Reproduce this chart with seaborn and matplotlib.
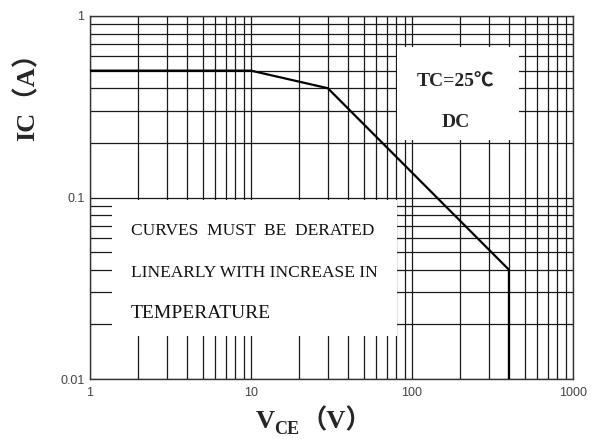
import matplotlib
matplotlib.use("Agg")
import matplotlib.pyplot as plt
import seaborn as sns
import pandas as pd
from matplotlib.patches import Rectangle
from matplotlib.ticker import FixedLocator, NullFormatter

# curve data (safe operating area, DC, TC=25C)
vce = [1, 10, 30, 400, 400]
ic = [0.5, 0.5, 0.4, 0.04, 0.01]

x_ticks = [1, 10, 100, 1000]
x_labels = ["1", "10", "100", "1000"]
y_ticks = [0.01, 0.1, 1]
y_labels = ["0.01", "0.1", "1"]

note_lines = ["CURVES  MUST  BE  DERATED", "LINEARLY WITH INCREASE IN", "TEMPERATURE"]

sns.set_style("white")
plt.rcParams["font.family"] = ["Liberation Serif", "Noto Sans CJK SC", "DejaVu Sans"]

df = pd.DataFrame({"VCE": vce, "IC": ic})

fig = plt.figure(figsize=(6.04, 4.41), dpi=100)
ax = fig.add_axes([90 / 604, 1 - 379 / 441, 483 / 604, 363 / 441])

ax.set_xscale("log")
ax.set_yscale("log")
ax.set_xlim(1, 1000)
ax.set_ylim(0.01, 1)
ax.set_axisbelow(True)

# grid, major + minor
ax.grid(True, which="both", color="#1a1a1a", linewidth=0.9)

# white boxes hiding the grid
ax.add_patch(Rectangle((1.37, 0.0172), 81 - 1.37, 0.097 - 0.0172,
                       facecolor="white", edgecolor="none", zorder=1.5))
ax.add_patch(Rectangle((81, 0.208), 460 - 81, 0.675 - 0.208,
                       facecolor="white", edgecolor="none", zorder=1.5))

sns.lineplot(data=df, x="VCE", y="IC", ax=ax, sort=False, estimator=None,
             color="black", linewidth=1.6, zorder=3)

ax.set_xlabel("")
ax.set_ylabel("")

ax.xaxis.set_major_locator(FixedLocator(x_ticks))
ax.set_xticklabels(x_labels)
ax.yaxis.set_major_locator(FixedLocator(y_ticks))
ax.set_yticklabels(y_labels)
ax.xaxis.set_minor_formatter(NullFormatter())
ax.yaxis.set_minor_formatter(NullFormatter())
ax.tick_params(which="both", length=0)
ax.tick_params(axis="x", pad=6)
ax.tick_params(axis="y", pad=4)
for lab in ax.get_xticklabels() + ax.get_yticklabels():
    lab.set_family("Liberation Sans")
    lab.set_fontsize(9)
    lab.set_color("#444444")

for sp in ax.spines.values():
    sp.set_color("#333333")
    sp.set_linewidth(1)

# annotations
note_y = [0.0621, 0.0366, 0.0216]
note_size = [12.5, 12.5, 14]
for txt, y, fs in zip(note_lines, note_y, note_size):
    ax.text(1.8, y, txt, fontsize=fs, ha="left", va="baseline", color="#111111", zorder=4)

ax.text(186, 0.411, "TC=25℃", fontsize=14, fontweight="bold", ha="center", va="baseline", zorder=4)
ax.text(188, 0.2436, "DC", fontsize=14, fontweight="bold", ha="center", va="baseline", zorder=4)

# axis titles
fig.text(27 / 604, 1 - 90 / 441, "IC（A）", rotation=90, fontsize=19, fontweight="bold",
         ha="center", va="center")
fig.text(256 / 604, 1 - 428 / 441, "V", fontsize=19, fontweight="bold", ha="left", va="baseline")
fig.text(274 / 604, 1 - 434 / 441, "CE", fontsize=13, fontweight="bold", ha="left", va="baseline")
fig.text(301 / 604, 1 - 428 / 441, "（V）", fontsize=19, fontweight="bold", ha="left", va="baseline")

fig.savefig("out.png", dpi=100)
